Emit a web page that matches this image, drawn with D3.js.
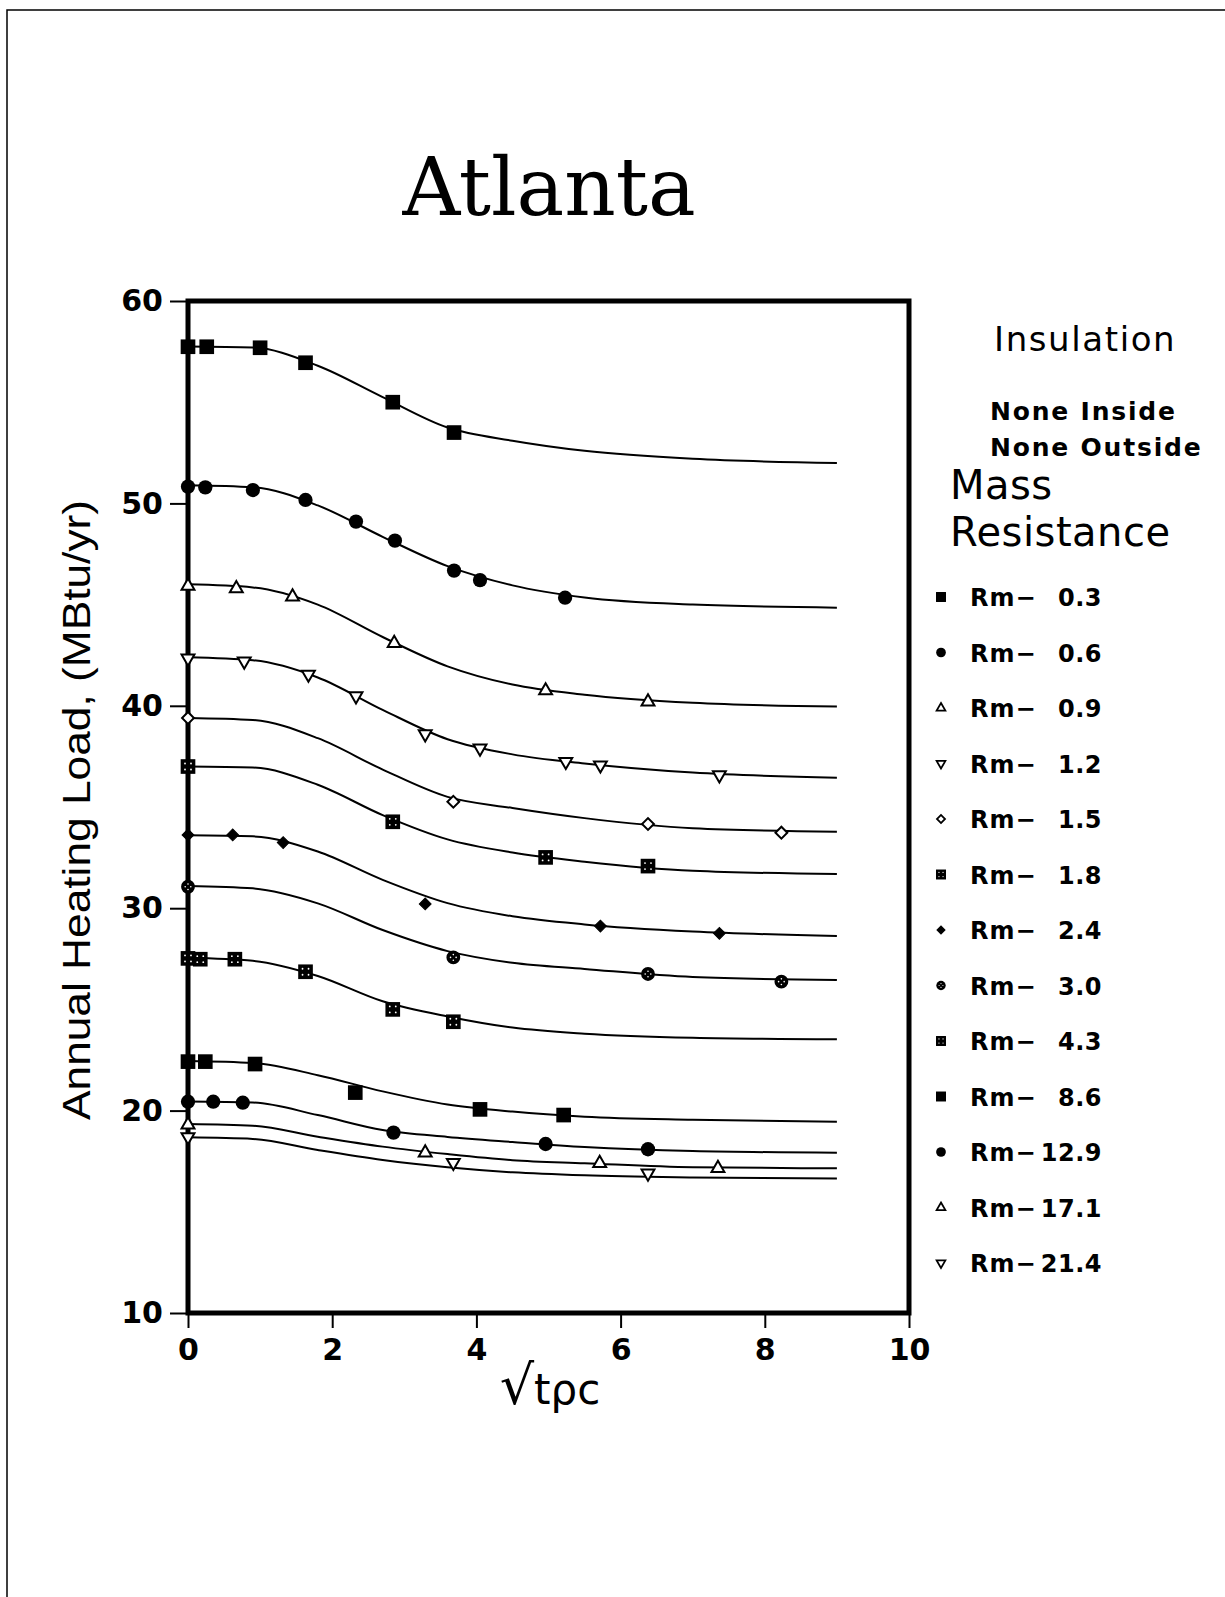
<!DOCTYPE html>
<html>
<head>
<meta charset="utf-8">
<script src="https://cdn.jsdelivr.net/npm/d3@7/dist/d3.min.js"></script>
<style>
  body { margin: 0; background: #fff; }
  svg { display: block; }
</style>
</head>
<body>
<svg id="chart" width="1225" height="1597"></svg>
<script>
// =========================================================================
// Data
// =========================================================================

const title = 'Atlanta';
const yLabel = 'Annual Heating Load, (MBtu/yr)';
const xLabelRoot = '\u221A';
const xLabelBody = 'tρc';
const xTicks = [0, 2, 4, 6, 8, 10];
const yTicks = [10, 20, 30, 40, 50, 60];

// Mass resistance categories (legend order = top curve to bottom curve)
const massResistance = ['0.3', '0.6', '0.9', '1.2', '1.5', '1.8', '2.4', '3.0', '4.3', '8.6', '12.9', '17.1', '21.4'];

// Simulated points (sqrt(t rho c), load)
const pointsX = [
    [0, 0.26, 1.0, 1.63, 2.84, 3.69],
    [0, 0.24, 0.90, 1.63, 2.33, 2.87, 3.69, 4.05, 5.23],
    [0, 0.67, 1.45, 2.86, 4.96, 6.38],
    [0, 0.78, 1.67, 2.33, 3.29, 4.05, 5.24, 5.72, 7.37],
    [0, 3.68, 6.38, 8.23],
    [0, 2.84, 4.96, 6.38],
    [0, 0.62, 1.32, 3.29, 5.72, 7.37],
    [0, 3.68, 6.38, 8.23],
    [0, 0.17, 0.65, 1.63, 2.84, 3.68],
    [0, 0.24, 0.93, 2.32, 4.05, 5.21],
    [0, 0.35, 0.76, 2.85, 4.96, 6.38],
    [0, 3.29, 5.71, 7.35],
    [0, 3.68, 6.38]
];
const pointsY = [
    [57.74, 57.74, 57.69, 56.95, 55.0, 53.5],
    [50.83, 50.79, 50.66, 50.17, 49.10, 48.16, 46.68, 46.21, 45.34],
    [45.92, 45.8, 45.39, 43.09, 40.75, 40.20],
    [42.35, 42.2, 41.55, 40.48, 38.61, 37.90, 37.24, 37.07, 36.58],
    [39.4, 35.26, 34.16, 33.73],
    [37.0, 34.27, 32.51, 32.08],
    [33.62, 33.62, 33.24, 30.21, 29.12, 28.76],
    [31.06, 27.57, 26.75, 26.37],
    [27.52, 27.48, 27.48, 26.86, 25.0, 24.39],
    [22.42, 22.42, 22.30, 20.89, 20.06, 19.78],
    [20.44, 20.44, 20.39, 18.91, 18.35, 18.09],
    [19.3, 17.92, 17.40, 17.15],
    [18.7, 17.43, 16.90]
];

// Fitted curves, read at these abscissas
const fitX = [0, 0.9, 1.8, 2.7, 3.6, 4.5, 5.5, 7, 9];
const fitY = [
    [57.75, 57.7, 56.8, 55.25, 53.75, 53.1, 52.6, 52.2, 52.0],
    [50.9, 50.8, 49.9, 48.35, 46.9, 45.95, 45.35, 45.0, 44.85],
    [46.0, 45.85, 45.0, 43.4, 41.95, 41.05, 40.55, 40.15, 39.96],
    [42.4, 42.25, 41.4, 39.8, 38.35, 37.6, 37.15, 36.7, 36.45],
    [39.4, 39.3, 38.4, 36.85, 35.5, 34.95, 34.45, 33.95, 33.78],
    [37.0, 36.95, 36.1, 34.6, 33.4, 32.75, 32.3, 31.85, 31.69],
    [33.6, 33.55, 32.8, 31.4, 30.25, 29.6, 29.2, 28.85, 28.63],
    [31.1, 30.98, 30.24, 28.92, 27.88, 27.3, 27.0, 26.6, 26.45],
    [27.55, 27.4, 26.65, 25.4, 24.65, 24.1, 23.8, 23.6, 23.52],
    [22.45, 22.35, 21.75, 20.95, 20.3, 19.95, 19.7, 19.55, 19.45],
    [20.45, 20.4, 19.78, 19.04, 18.7, 18.45, 18.2, 18.0, 17.92],
    [19.34, 19.25, 18.71, 18.22, 17.85, 17.55, 17.4, 17.2, 17.15],
    [18.68, 18.6, 18.05, 17.56, 17.2, 16.95, 16.8, 16.7, 16.65]
];

// Marker style per series
const markerKinds = ['sq', 'ci', 'tu', 'td', 'di', 'sqd', 'dif', 'cix', 'sqd', 'sq', 'ci', 'tu', 'td'];

// =========================================================================
// Drawing
// =========================================================================

const svg = d3.select('#chart');
const sans = "'DejaVu Sans', 'Liberation Sans', sans-serif";

const x = d3.scaleLinear().domain([0, 10]).range([188, 909]);
const y = d3.scaleLinear().domain([10, 60]).range([1313, 301]);

// page frame (top and left edges only)
svg.append('path')
    .attr('d', 'M7,1597 L7,10 L1225,10')
    .attr('fill', 'none')
    .attr('stroke', '#000')
    .attr('stroke-width', 1.5);

// title
svg.append('text')
    .attr('x', 549).attr('y', 215)
    .attr('text-anchor', 'middle')
    .attr('font-family', "'DejaVu Serif', 'Liberation Serif', serif")
    .attr('font-size', 80)
    .text(title);

// axes
const yAxis = d3.axisLeft(y).tickValues(yTicks).tickSize(18).tickPadding(7).tickSizeOuter(0);
const xAxis = d3.axisBottom(x).tickValues(xTicks).tickSize(15).tickPadding(11).tickSizeOuter(0);

const gy = svg.append('g').attr('transform', `translate(${x(0)},0)`).call(yAxis);
const gx = svg.append('g').attr('transform', `translate(0,${y(10)})`).call(xAxis);

[gx, gy].forEach(g => {
    g.select('.domain').remove();
    g.selectAll('line').attr('stroke', '#000').attr('stroke-width', 2);
    g.selectAll('text')
        .attr('fill', '#000')
        .attr('font-family', sans)
        .attr('font-weight', 'bold')
        .attr('font-size', 30);
});

// plot box
svg.append('rect')
    .attr('x', x(0)).attr('y', y(60))
    .attr('width', x(10) - x(0)).attr('height', y(10) - y(60))
    .attr('fill', 'none')
    .attr('stroke', '#000')
    .attr('stroke-width', 5);

// fitted curves
const line = d3.line()
    .x(d => x(d[0]))
    .y(d => y(d[1]))
    .curve(d3.curveMonotoneX);

svg.append('g').selectAll('path')
    .data(fitY)
    .join('path')
    .attr('d', ys => line(fitX.map((v, i) => [v, ys[i]])))
    .attr('fill', 'none')
    .attr('stroke', '#000')
    .attr('stroke-width', 2);

// marker drawing helper; k scales the symbol size
function drawMarker(g, kind, k) {
    const sym = (type, area) => d3.symbol().type(type).size(area * k * k)();
    const sw = 2 * Math.min(1, k + 0.2);
    if (kind === 'sq') {
        g.append('path').attr('d', sym(d3.symbolSquare, 215)).attr('fill', '#000');
    } else if (kind === 'ci') {
        g.append('path').attr('d', sym(d3.symbolCircle, 160)).attr('fill', '#000');
    } else if (kind === 'tu' || kind === 'td') {
        g.append('path')
            .attr('d', sym(d3.symbolTriangle, 72))
            .attr('transform', kind === 'td' ? 'rotate(180)' : null)
            .attr('fill', '#fff')
            .attr('stroke', '#000')
            .attr('stroke-width', sw);
    } else if (kind === 'di' || kind === 'dif') {
        g.append('path')
            .attr('d', sym(d3.symbolSquare, 70))
            .attr('transform', 'rotate(45)')
            .attr('fill', kind === 'dif' ? '#000' : '#fff')
            .attr('stroke', '#000')
            .attr('stroke-width', kind === 'dif' ? 1 : sw);
    } else if (kind === 'sqd') {
        g.append('path').attr('d', sym(d3.symbolSquare, 215)).attr('fill', '#000');
        [[-1, -1], [1, -1], [-1, 1], [1, 1]].forEach(([dx, dy]) => {
            g.append('circle')
                .attr('cx', dx * 3 * k).attr('cy', dy * 3 * k)
                .attr('r', 0.9 * k)
                .attr('fill', '#fff');
        });
    } else if (kind === 'cix') {
        g.append('path').attr('d', sym(d3.symbolCircle, 150)).attr('fill', '#000');
        [[-1, 0], [1, 0], [0, -1], [0, 1]].forEach(([dx, dy]) => {
            g.append('circle')
                .attr('cx', dx * 2.8 * k).attr('cy', dy * 2.8 * k)
                .attr('r', 0.8 * k)
                .attr('fill', '#fff');
        });
    }
}

// data markers
pointsX.forEach((xs, s) => {
    xs.forEach((xv, i) => {
        const g = svg.append('g')
            .attr('transform', `translate(${x(xv)},${y(pointsY[s][i])})`);
        drawMarker(g, markerKinds[s], 1);
    });
});

// axis titles
svg.append('text')
    .attr('transform', 'translate(90,810) rotate(-90)')
    .attr('text-anchor', 'middle')
    .attr('font-family', "'Liberation Sans Narrow', 'Liberation Sans', sans-serif")
    .attr('font-size', 39)
    .attr('textLength', 620)
    .attr('lengthAdjust', 'spacingAndGlyphs')
    .text(yLabel);

const xl = svg.append('text')
    .attr('x', 550).attr('y', 1404)
    .attr('text-anchor', 'middle')
    .attr('font-family', sans);
xl.append('tspan').attr('font-size', 54).text(xLabelRoot);
xl.append('tspan').attr('font-size', 42).text(xLabelBody);

// legend headings
const legend = svg.append('g');
const heading = (txt, xx, yy, size, weight, spacing) => legend.append('text')
    .attr('x', xx).attr('y', yy)
    .attr('font-family', sans)
    .attr('font-size', size)
    .attr('font-weight', weight)
    .attr('letter-spacing', spacing)
    .text(txt);

heading('Insulation', 994, 351, 34, 'normal', 1.6);
heading('None Inside', 990, 420, 25, 'bold', 1.8);
heading('None Outside', 990, 456, 25, 'bold', 1.8);
heading('Mass', 950, 499, 40, 'normal', 0.5);
heading('Resistance', 950, 546, 40, 'normal', 0.5);

// legend entries
massResistance.forEach((rm, i) => {
    const cy = 597 + i * 55.5;
    const g = legend.append('g').attr('transform', `translate(941,${cy})`);
    drawMarker(g, markerKinds[i], 0.68);
    legend.append('text')
        .attr('x', 970).attr('y', cy + 9)
        .attr('font-family', sans)
        .attr('font-weight', 'bold')
        .attr('font-size', 24)
        .attr('letter-spacing', 1)
        .text('Rm\u2212');
    legend.append('text')
        .attr('x', 1102).attr('y', cy + 9)
        .attr('text-anchor', 'end')
        .attr('font-family', sans)
        .attr('font-weight', 'bold')
        .attr('font-size', 24)
        .attr('letter-spacing', 0.5)
        .text(rm);
});
</script>
</body>
</html>
